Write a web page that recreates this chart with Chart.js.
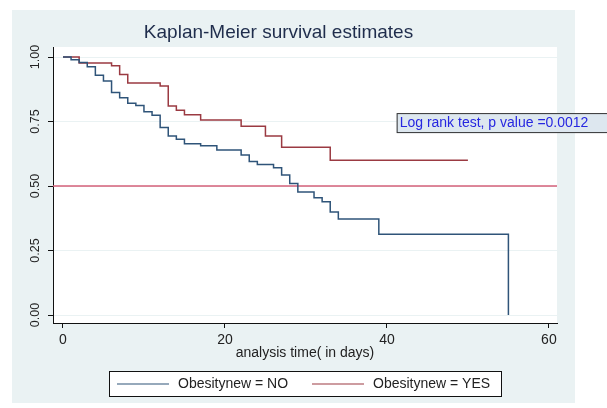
<!DOCTYPE html>
<html>
<head>
<meta charset="utf-8">
<script src="https://cdn.jsdelivr.net/npm/chart.js@4/dist/chart.umd.min.js"></script>
<style>
  body { margin: 0; background: #fff; }
  #wrap { width: 607px; height: 408px; }
</style>
</head>
<body>
<div id="wrap"><canvas id="km" width="607" height="408"></canvas></div>
<script>
// tick labels
const xTicks = [0, 20, 40, 60];
const yTicks = [0, 0.25, 0.5, 0.75, 1];

// Obesitynew = NO
const noTime = [0, 1, 2, 3, 4, 5, 6, 7, 8, 9, 10, 11, 12, 13, 14, 15, 17, 19, 22, 23, 24, 26, 27, 28, 29, 31, 32, 33, 34, 39, 55];
const noSurv = [1, 0.99, 0.979, 0.962, 0.929, 0.907, 0.863, 0.842, 0.821, 0.812, 0.788, 0.774, 0.727, 0.694, 0.681, 0.664, 0.656, 0.64, 0.62, 0.595, 0.583, 0.571, 0.543, 0.51, 0.477, 0.455, 0.439, 0.399, 0.372, 0.313, 0];

// Obesitynew = YES
const yesTime = [0, 2, 6, 7, 8, 12, 13, 14, 15, 17, 22, 25, 27, 33, 50];
const yesSurv = [1, 0.977, 0.966, 0.932, 0.899, 0.888, 0.81, 0.794, 0.776, 0.756, 0.732, 0.694, 0.65, 0.6, 0.6];

const refLevel = 0.5;
const pValue = '0.0012';

const xMin = -1.23, xMax = 61;
const yMin = -0.031, yMax = 1.039;

const toPoints = (t, s) => t.map((v, i) => ({ x: v, y: s[i] }));

const NAVY = '#2f5479';
const MAROON = '#9b3a42';
const REF = '#d4607a';
const FONT = '"Liberation Sans", Arial, sans-serif';

const decor = {
    id: 'decor',
    beforeDraw(chart) {
        const { ctx, chartArea: a } = chart;
        ctx.save();
        ctx.fillStyle = '#fff';
        ctx.fillRect(0, 0, chart.width, chart.height);
        ctx.fillStyle = '#eaf2f3';
        ctx.fillRect(12, 10, 563, 393);
        ctx.fillStyle = '#fff';
        ctx.fillRect(a.left, a.top, a.right - a.left, a.bottom - a.top);
        ctx.restore();
    },
    afterDraw(chart) {
        const { ctx, chartArea: a } = chart;
        const xs = chart.scales.x, ys = chart.scales.y;
        ctx.save();

        // rotated y tick labels
        ctx.fillStyle = '#222';
        ctx.font = '12.5px ' + FONT;
        ctx.textAlign = 'center';
        ctx.textBaseline = 'middle';
        yTicks.forEach(v => {
            ctx.save();
            ctx.translate(36, ys.getPixelForValue(v));
            ctx.rotate(-Math.PI / 2);
            ctx.fillText(v.toFixed(2), 0, 0);
            ctx.restore();
        });

        // x axis title
        ctx.font = '14px ' + FONT;
        ctx.fillStyle = '#222';
        ctx.fillText('analysis time( in days)', (a.left + a.right) / 2, 353);

        // log rank box
        const txt = 'Log rank test, p value =' + pValue;
        ctx.font = '14px ' + FONT;
        const bx = xs.getPixelForValue(41.2);
        const by = ys.getPixelForValue(0.744);
        const w = ctx.measureText(txt).width;
        ctx.fillStyle = '#dde7ef';
        ctx.fillRect(bx, by - 10, w + 22, 20);
        ctx.strokeStyle = '#333';
        ctx.lineWidth = 1;
        ctx.strokeRect(bx + 0.5, by - 9.5, w + 22, 19);
        ctx.fillStyle = '#2626e0';
        ctx.textAlign = 'left';
        ctx.fillText(txt, bx + 3, by + 0.5);

        // legend
        const lx = 109, ly = 371, lw = 392, lh = 25;
        ctx.fillStyle = '#fff';
        ctx.fillRect(lx, ly, lw, lh);
        ctx.strokeStyle = '#111';
        ctx.strokeRect(lx + 0.5, ly + 0.5, lw, lh);
        const items = [
            { label: chart.data.datasets[0].label, color: NAVY, x: 117 },
            { label: chart.data.datasets[1].label, color: MAROON, x: 312 }
        ];
        items.forEach(it => {
            ctx.strokeStyle = it.color;
            ctx.lineWidth = 1.2;
            ctx.beginPath();
            ctx.moveTo(it.x, ly + 13);
            ctx.lineTo(it.x + 52, ly + 13);
            ctx.stroke();
            ctx.fillStyle = '#222';
            ctx.font = '14px ' + FONT;
            ctx.textAlign = 'left';
            ctx.fillText(it.label, it.x + 61, ly + 13.5);
        });
        ctx.restore();
    }
};

new Chart(document.getElementById('km'), {
    type: 'line',
    data: {
        datasets: [
            {
                label: 'Obesitynew = NO',
                data: toPoints(noTime, noSurv),
                borderColor: NAVY,
                borderWidth: 1.5,
                stepped: 'before',
                pointRadius: 0,
                fill: false
            },
            {
                label: 'Obesitynew = YES',
                data: toPoints(yesTime, yesSurv),
                borderColor: MAROON,
                borderWidth: 1.5,
                stepped: 'before',
                pointRadius: 0,
                fill: false
            },
            {
                label: 'ref',
                data: [{ x: xMin, y: refLevel }, { x: xMax, y: refLevel }],
                borderColor: REF,
                borderWidth: 1.5,
                pointRadius: 0,
                fill: false
            }
        ]
    },
    options: {
        responsive: false,
        animation: false,
        layout: { padding: { left: 0, right: 50, top: 0, bottom: 0 } },
        plugins: {
            legend: { display: false },
            tooltip: { enabled: false },
            title: {
                display: true,
                text: 'Kaplan-Meier survival estimates',
                color: '#1f2d4c',
                font: { family: FONT, size: 19, weight: 'normal' },
                padding: { top: 21.6, bottom: 2.6 }
            }
        },
        scales: {
            x: {
                type: 'linear',
                min: xMin,
                max: xMax,
                afterBuildTicks: s => { s.ticks = xTicks.map(v => ({ value: v })); },
                afterFit: s => { s.height = 85; },
                grid: { drawOnChartArea: false, tickLength: 5, tickColor: '#111' },
                border: { color: '#111', width: 1 },
                ticks: { color: '#222', padding: 4, font: { family: FONT, size: 14 } }
            },
            y: {
                type: 'linear',
                min: yMin,
                max: yMax,
                afterBuildTicks: s => { s.ticks = yTicks.map(v => ({ value: v })); },
                afterFit: s => { s.width = 53; },
                grid: { color: '#eaf2f3', tickLength: 5, tickColor: '#111' },
                border: { color: '#111', width: 1 },
                ticks: { display: false }
            }
        }
    },
    plugins: [decor]
});
</script>
</body>
</html>
